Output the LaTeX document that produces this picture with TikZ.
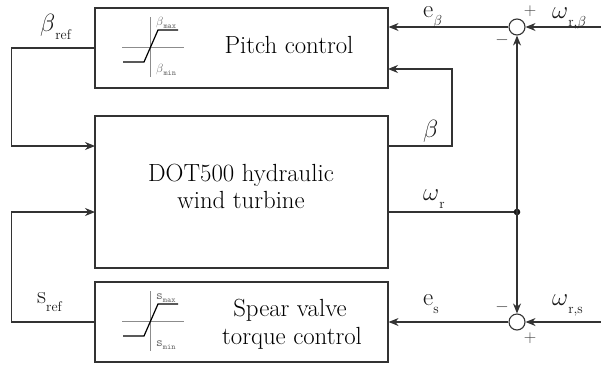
\documentclass[tikz,border=0pt]{standalone}
\usepackage{fontspec}
\usetikzlibrary{arrows.meta}
\newcommand\subl[2]{#1\raisebox{-8pt}{\fontsize{14}{14}\selectfont #2}}
\newcommand\isub[2]{#1\raisebox{-3pt}{\fontsize{8}{8}\selectfont #2}}
\begin{document}
\begin{tikzpicture}[x=1pt,y=-1pt,
  line/.style={draw=black!80, line width=1.1pt},
  arr/.style={line, -{Stealth[length=10pt,width=8pt]}},
  blk/.style={draw=black!80, line width=1.1pt, minimum width=293pt, minimum height=80pt, inner sep=0pt},
  big/.style={font=\fontsize{24.8}{27}\selectfont, anchor=base, inner sep=0pt},
  lbl/.style={font=\fontsize{25}{25}\selectfont, anchor=base west, inner sep=0pt, text=black!90},
  sgn/.style={font=\fontsize{17}{17}\selectfont, inner sep=0pt, text=black!75},
  sumc/.style={circle, draw=black!80, line width=1.1pt, minimum size=16pt, inner sep=0pt},
  axis/.style={draw=black!45, line width=0.8pt},
  satc/.style={draw=black, line width=1.2pt},
  ilbl/.style={font=\ttfamily\fontsize{13}{13}\selectfont, anchor=base west, inner sep=0pt, text=black!60}]
\useasboundingbox (0,0) rectangle (601,367);
% blocks
\node[blk] (pitch) at (241.5,48) {};
\node[blk, minimum height=152pt] (turb) at (241.5,192) {};
\node[blk] (spear) at (241.5,322) {};
% block texts
\node[big] (ptxt) at (289,53) {Pitch control};
\node[big] (ttxt1) at (241,181) {DOT500 hydraulic};
\node[big] (ttxt2) at (241,208) {wind turbine};
\node[big] (stxt1) at (290,316) {Spear valve};
\node[big] (stxt2) at (292,344) {torque control};
% saturation icons
\foreach \dy in {0, 274} {
  \begin{scope}[shift={(0,\dy)}]
    \draw[axis] (150,17) -- (150,77);
    \draw[axis] (122,47) -- (184,47);
    \draw[satc] (123,62) -- (144,62) -- (158,30) -- (178,30);
  \end{scope}
}
\node[ilbl] (bmax) at (156,25) {\isub{$\beta$}{max}};
\node[ilbl] (bmin) at (156,72) {\isub{$\beta$}{min}};
\node[ilbl] (smax) at (156,299) {\isub{s}{max}};
\node[ilbl] (smin) at (156,346) {\isub{s}{min}};
% summing junctions
\node[sumc] (s1) at (517,27) {};
\node[sumc] (s2) at (517,322) {};
\coordinate (dot) at (517,212);
\coordinate (wrb) at (601,27);
\coordinate (wrs) at (601,322);
\coordinate (tin1) at (95,146);
\coordinate (tin2) at (95,212);
\coordinate (tout1) at (388,146);
\coordinate (tout2) at (388,212);
\coordinate (pin2) at (388,69);
% connectors
\draw[arr] (wrb) -- (s1.east);
\draw[arr] (s1.west) -- (pitch.east |- s1.west);
\draw[arr] (wrs) -- (s2.east);
\draw[arr] (s2.west) -- (spear.east |- s2.west);
\draw[line] (tout2) -- (dot);
\fill[black!90] (dot) circle (3.3);
\draw[arr] (dot) -- (s1.south);
\draw[arr] (dot) -- (s2.north);
\draw[arr] (tout1) -- ++(64,0) |- (pin2);
\draw[arr] (pitch.west) -- ++(-83,0) |- (tin1);
\draw[arr] (spear.west) -- ++(-83,0) |- (tin2);
% labels
\node[lbl] (bref) at (40,31) {\subl{$\beta$}{ref}};
\node[lbl] (sref) at (37,303) {\subl{s}{ref}};
\node[lbl] (eb) at (423,17) {\subl{e}{$\beta$}};
\node[lbl] (es) at (423,305) {\subl{e}{s}};
\node[lbl] (bout) at (423,137) {$\beta$};
\node[lbl] (wr) at (423,200) {\subl{$\omega$}{r}};
\node[lbl] (wrbl) at (552,18) {\subl{$\omega$}{r,$\beta$}};
\node[lbl] (wrsl) at (552,305) {\subl{$\omega$}{r,s}};
\node[sgn] (p1) at (530,11) {$+$};
\node[sgn] (m1) at (502,40) {$-$};
\node[sgn] (m2) at (502,307) {$-$};
\node[sgn] (p2) at (530,338) {$+$};
\end{tikzpicture}
\end{document}
